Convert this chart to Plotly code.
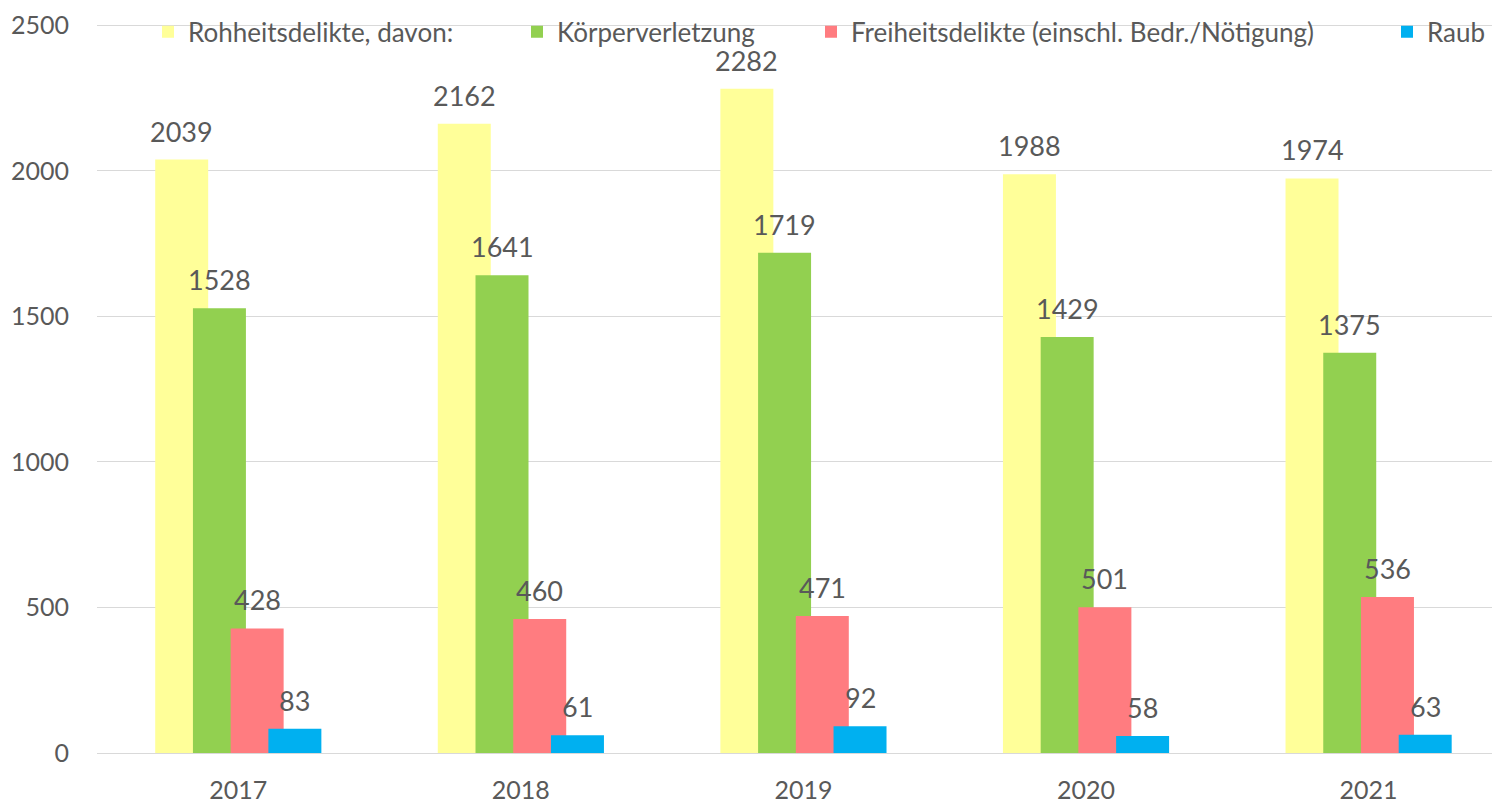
import plotly.graph_objects as go

years = ["2017", "2018", "2019", "2020", "2021"]
series_names = [
    "Rohheitsdelikte, davon:",
    "Körperverletzung",
    "Freiheitsdelikte (einschl. Bedr./Nötigung)",
    "Raub",
]
rohheit = [2039, 2162, 2282, 1988, 1974]
koerper = [1528, 1641, 1719, 1429, 1375]
freiheit = [428, 460, 471, 501, 536]
raub = [83, 61, 92, 58, 63]
yticks = [0, 500, 1000, 1500, 2000, 2500]

values = [rohheit, koerper, freiheit, raub]
colors = ["#FFFF99", "#92D050", "#FF7C80", "#00B0F0"]
offsets = [-0.294, -0.1605, -0.027, 0.1065]
bar_w = 0.1875
legend_text_px = [188, 557, 851, 1427]  # target page x of legend texts

# page has an 8px body margin; compensate so the figure fills the window
PAGE = 8
W, H = 1500 - PAGE, 808 - PAGE
ML, MR, MT, MB = 97 - PAGE, 0, 10, 55
PW = W - ML - MR
PH = H - MT - MB
FONT = "Lato"
TXT = "#595959"

fig = go.Figure()
annotations = []
legend_ids = ["legend", "legend2", "legend3", "legend4"]
for k, (name, vals, col, off) in enumerate(zip(series_names, values, colors, offsets)):
    fig.add_trace(go.Bar(
        x=years, y=vals, name=name,
        marker=dict(color=col, line=dict(width=0)),
        width=[bar_w] * len(years), offset=[off] * len(years),
        legend=legend_ids[k],
        hoverinfo="x+y+name",
    ))
    for i, v in enumerate(vals):
        annotations.append(dict(
            x=i + off + bar_w / 2, y=v, xref="x", yref="y",
            text=str(v), showarrow=False, yanchor="bottom", xanchor="center",
            yshift=11, borderpad=0, font=dict(family=FONT, size=27, color=TXT),
        ))

layout_legends = {}
for k, lid in enumerate(legend_ids):
    layout_legends[lid] = dict(
        x=(legend_text_px[k] - PAGE - 40 - ML) / PW, xanchor="left",
        y=1 - (27 - PAGE - MT) / PH, yanchor="middle",
        orientation="h", bgcolor="rgba(0,0,0,0)",
        font=dict(family=FONT, size=26, color=TXT),
        itemclick=False, itemdoubleclick=False,
    )

fig.update_layout(
    width=W, height=H,
    margin=dict(l=ML, r=MR, t=MT, b=MB),
    paper_bgcolor="white", plot_bgcolor="white",
    barmode="overlay",
    showlegend=True,
    font=dict(family=FONT, size=25, color=TXT),
    annotations=annotations,
    xaxis=dict(
        type="category", range=[-0.5, 4.465],
        showgrid=False, showline=False, zeroline=False,
        ticks="", ticklabelstandoff=20,
        tickfont=dict(family=FONT, size=25, color=TXT),
    ),
    yaxis=dict(
        range=[0, 2508], tickvals=yticks,
        showgrid=True, gridcolor="#D9D9D9", gridwidth=1.3,
        zeroline=True, zerolinecolor="#D9D9D9", zerolinewidth=1.3,
        showline=False, ticks="", ticklabelstandoff=27,
        tickfont=dict(family=FONT, size=25, color=TXT),
    ),
    **layout_legends,
)

fig.write_html("out.html")
